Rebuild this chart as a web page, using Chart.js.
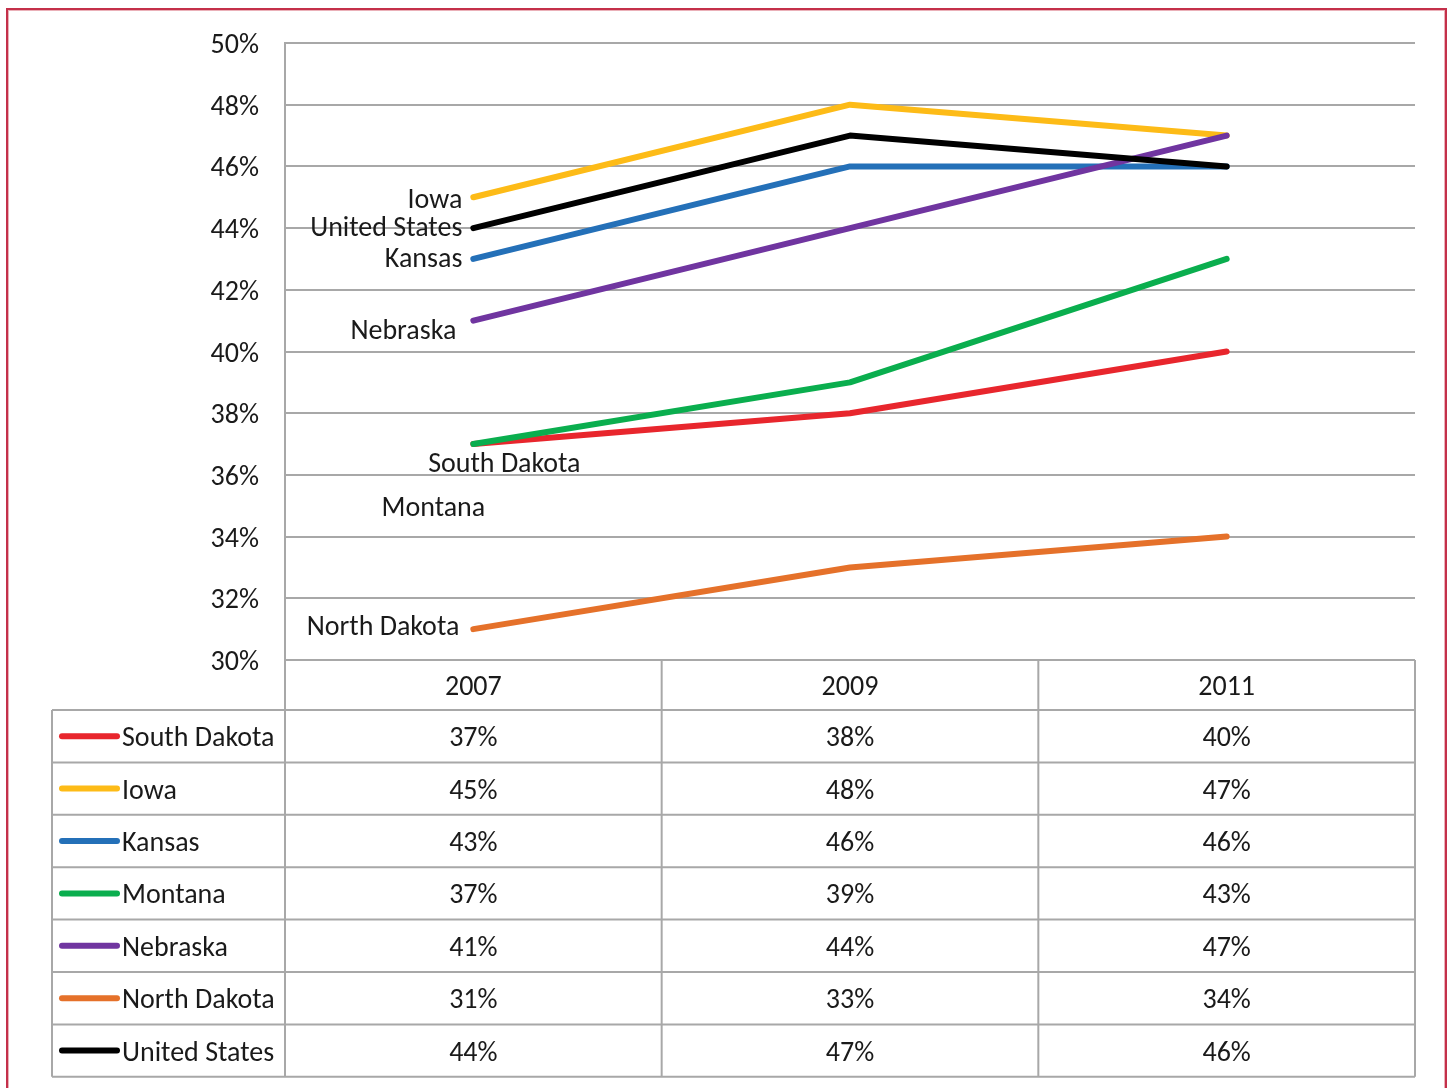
<!DOCTYPE html>
<html>
<head>
<meta charset="utf-8">
<script src="https://cdn.jsdelivr.net/npm/chart.js@4/dist/chart.umd.min.js"></script>
<style>
  html, body { margin: 0; padding: 0; background: #fff; }
  #frame {
    position: absolute; left: 6px; top: 8px; width: 1437px; height: 1100px;
    border: 2px solid #c4304a; box-shadow: inset 0 0 0 1px #eab0b8;
  }
  #balanceChart { position: absolute; left: 0; top: 0; }
</style>
</head>
<body>
<div id="frame"></div>
<canvas id="balanceChart" width="1448" height="1088"></canvas>
<script>
// Years on the x axis
const years = ["2007", "2009", "2011"];

// One series per state (percent)
const southDakota = [37, 38, 40];
const iowa = [45, 48, 47];
const kansas = [43, 46, 46];
const montana = [37, 39, 43];
const nebraska = [41, 44, 47];
const northDakota = [31, 33, 34];
const unitedStates = [44, 47, 46];

const seriesNames = ["South Dakota", "Iowa", "Kansas", "Montana", "Nebraska", "North Dakota", "United States"];
const seriesValues = [southDakota, iowa, kansas, montana, nebraska, northDakota, unitedStates];

// Y axis range (percent)
const yMin = 30;
const yMax = 50;
const yStep = 2;

// Styles, kept apart from the data
const colors = ["#e8262d", "#fdbb17", "#2470b8", "#0aae4e", "#7035a0", "#e5712a", "#000000"];
// label placement next to the 2007 point: [dx, dy, align]
const labelPlacement = [
    [31, 21, "center"],
    [-11, 4, "right"],
    [-11, 1, "right"],
    [-40, 65, "center"],
    [-17, 11, "right"],
    [-14, -1, "right"],
    [-11, 1, "right"]
];

const FONT_FAMILY = "Carlito, Lato, sans-serif";
const FONT = "28px " + FONT_FAMILY;
const TEXT = "#1a1a1a";
const GRID = "#a8a8a8";

// Draws the labels beside the lines and the data table under the plot
const tablePlugin = {
    id: 'dataTable',
    afterDatasetsDraw(chart) {
        const ctx = chart.ctx;
        const x = chart.scales.x;
        const y = chart.scales.y;
        ctx.save();
        ctx.font = FONT;
        ctx.fillStyle = TEXT;
        ctx.textBaseline = "middle";
        seriesValues.forEach((vals, i) => {
            const p = labelPlacement[i];
            ctx.textAlign = p[2];
            ctx.fillText(seriesNames[i], x.getPixelForValue(0) + p[0], y.getPixelForValue(vals[0]) + p[1]);
        });
        ctx.restore();
    },
    afterDraw(chart) {
        const ctx = chart.ctx;
        const area = chart.chartArea;
        const x = chart.scales.x;
        const band = (area.right - area.left) / years.length;
        const headTop = area.bottom;
        const headH = 50;
        const rowH = 52.4;
        const tableLeft = 52;
        const bodyTop = headTop + headH;
        const bodyBottom = bodyTop + rowH * seriesNames.length;

        ctx.save();
        ctx.strokeStyle = GRID;
        ctx.lineWidth = 2;
        ctx.beginPath();
        // header box and columns
        ctx.moveTo(area.left, headTop); ctx.lineTo(area.left, bodyBottom);
        for (let c = 1; c <= years.length; c++) {
            const bx = area.left + band * c;
            ctx.moveTo(bx, headTop); ctx.lineTo(bx, bodyBottom);
        }
        ctx.moveTo(tableLeft, bodyTop); ctx.lineTo(tableLeft, bodyBottom);
        for (let r = 0; r <= seriesNames.length; r++) {
            const ry = bodyTop + rowH * r;
            ctx.moveTo(tableLeft, ry); ctx.lineTo(area.right, ry);
        }
        ctx.stroke();

        ctx.font = FONT;
        ctx.fillStyle = TEXT;
        ctx.textBaseline = "middle";
        ctx.textAlign = "center";
        years.forEach((yr, c) => ctx.fillText(yr, x.getPixelForValue(c), headTop + headH / 2 + 3));

        seriesValues.forEach((vals, r) => {
            const cy = bodyTop + rowH * r + rowH / 2 + 3;
            // legend key
            ctx.strokeStyle = colors[r];
            ctx.lineWidth = 6;
            ctx.lineCap = "round";
            ctx.beginPath();
            ctx.moveTo(62, cy - 3); ctx.lineTo(117, cy - 3);
            ctx.stroke();
            ctx.textAlign = "left";
            ctx.fillText(seriesNames[r], 122, cy);
            ctx.textAlign = "center";
            vals.forEach((v, c) => ctx.fillText(v + "%", x.getPixelForValue(c), cy));
        });
        ctx.restore();
    }
};

const ctx = document.getElementById('balanceChart').getContext('2d');
const balanceChart = new Chart(ctx, {
    type: 'line',
    data: {
        labels: years,
        datasets: seriesValues.map((vals, i) => ({
            label: seriesNames[i],
            data: vals,
            borderColor: colors[i],
            borderWidth: 6,
            borderCapStyle: 'round',
            borderJoinStyle: 'round',
            pointRadius: 0,
            tension: 0,
            fill: false,
            order: seriesNames.length - i
        }))
    },
    options: {
        responsive: false,
        animation: false,
        layout: { padding: { left: 0, top: 43, right: 33, bottom: 428 } },
        plugins: {
            legend: { display: false },
            tooltip: { enabled: false }
        },
        scales: {
            x: {
                offset: true,
                grid: { display: false },
                border: { display: false },
                ticks: { display: false },
                afterFit: s => { s.height = 0; }
            },
            y: {
                min: yMin,
                max: yMax,
                grid: { color: GRID, lineWidth: 2, drawTicks: false },
                border: { display: true, color: GRID, width: 2 },
                ticks: {
                    stepSize: yStep,
                    padding: 26,
                    labelOffset: 3,
                    color: TEXT,
                    font: { family: FONT_FAMILY, size: 28 },
                    callback: v => v + "%"
                },
                afterFit: s => { s.width = 285; }
            }
        }
    },
    plugins: [tablePlugin]
});
</script>
</body>
</html>
